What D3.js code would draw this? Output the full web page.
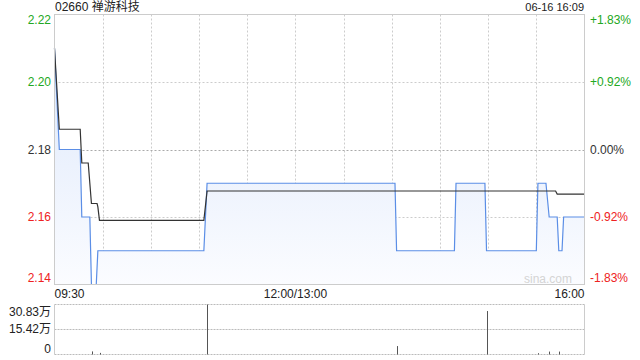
<!DOCTYPE html>
<html>
<head>
<meta charset="utf-8">
<script src="https://cdn.jsdelivr.net/npm/d3@7"></script>
<style>
  body { margin: 0; background: #fff; }
  svg { display: block; font-family: "Liberation Sans", Arial, "Noto Sans CJK SC", sans-serif; }
</style>
</head>
<body>
<script>
const title = "02660 禅游科技"
const stamp = "06-16 16:09"
const prevClose = 2.18

// minutes since 09:30 (lunch break removed), price
const priceMin = [0, 3, 16, 17, 22, 23, 26, 27, 93, 95, 212, 213, 249, 250, 268, 269, 300, 301, 306, 308, 313, 314, 316, 317, 330]
const priceVal = [2.21, 2.18, 2.18, 2.16, 2.16, 2.14, 2.14, 2.15, 2.15, 2.17, 2.17, 2.15, 2.15, 2.17, 2.17, 2.15, 2.15, 2.17, 2.17, 2.16, 2.16, 2.15, 2.15, 2.16, 2.16]

// average price
const avgMin = [0, 3, 16, 17, 21, 23, 26.5, 27, 28, 93, 95, 312, 313, 330]
const avgVal = [2.21, 2.186, 2.186, 2.176, 2.176, 2.164, 2.164, 2.163, 2.159, 2.159, 2.1677, 2.1677, 2.1668, 2.1668]

// volume in 万
const volMin = [23.5, 28.6, 95, 213, 269, 301, 308, 314]
const volVal = [1.9, 1.0, 30.83, 5.2, 26.8, 0.8, 1.8, 1.8]

const priceTicks = [2.22, 2.20, 2.18, 2.16, 2.14]
const pctTicks = ["+1.83%", "+0.92%", "0.00%", "-0.92%", "-1.83%"]
const volTicks = [30.83, 15.42, 0]
const volLabels = ["30.83万", "15.42万", "0"]
const timeLabels = ["09:30", "12:00/13:00", "16:00"]
const timeLabelMin = [0, 150, 330]

const width = 640
const height = 360
const pLeft = 54.5, pRight = 584.5
const pTop = 14.5, pBottom = 284.5
const vTop = 304.5, vBottom = 354.5

const green = "#22a822", red = "#ee2222", dark = "#333"

const svg = d3.select("body").append("svg")
  .attr("width", width)
  .attr("height", height)

const x = d3.scaleLinear().domain([0, 330]).range([pLeft, pRight])
const y = d3.scaleLinear().domain([2.14, 2.22]).range([pBottom, pTop])
const yv = d3.scaleLinear().domain([0, 30.83]).range([vBottom, vTop])

const tickColor = v => v > prevClose ? green : v < prevClose ? red : dark

// gradient for area
const grad = svg.append("defs").append("linearGradient")
  .attr("id", "fillGrad").attr("x1", 0).attr("y1", 0).attr("x2", 0).attr("y2", 1)
grad.append("stop").attr("offset", "0%").attr("stop-color", "#dde8fb")
grad.append("stop").attr("offset", "100%").attr("stop-color", "#fbfcff")

// grid
const gridMin = d3.range(30, 330, 30)
svg.append("g").selectAll("line")
  .data(gridMin).enter().append("line")
  .attr("x1", d => Math.round(x(d)) + 0.5).attr("x2", d => Math.round(x(d)) + 0.5)
  .attr("y1", pTop).attr("y2", pBottom)
  .attr("stroke", "#ccc").attr("stroke-dasharray", "2,2")

svg.append("g").selectAll("line")
  .data(priceTicks.slice(1, 4)).enter().append("line")
  .attr("x1", pLeft).attr("x2", pRight)
  .attr("y1", d => Math.round(y(d)) + 0.5).attr("y2", d => Math.round(y(d)) + 0.5)
  .attr("stroke", d => d === prevClose ? "#aaa" : "#ccc")
  .attr("stroke-dasharray", "2,2")

// area + lines
const pts = priceMin.map((m, i) => [m, priceVal[i]])
const avgPts = avgMin.map((m, i) => [m, avgVal[i]])

svg.append("path")
  .datum(pts)
  .attr("d", d3.area().x(d => x(d[0])).y0(pBottom).y1(d => y(d[1])))
  .attr("fill", "url(#fillGrad)")

svg.append("path")
  .datum(pts)
  .attr("d", d3.line().x(d => x(d[0])).y(d => y(d[1])))
  .attr("fill", "none").attr("stroke", "#5b8ee6").attr("stroke-width", 1.2)

svg.append("path")
  .datum(avgPts)
  .attr("d", d3.line().x(d => x(d[0])).y(d => y(d[1])))
  .attr("fill", "none").attr("stroke", "#333").attr("stroke-width", 1.2)

// frame
svg.append("rect")
  .attr("x", pLeft).attr("y", pTop)
  .attr("width", pRight - pLeft).attr("height", pBottom - pTop)
  .attr("fill", "none").attr("stroke", "#ccc")

// watermark
svg.append("text")
  .attr("x", 572).attr("y", 283)
  .attr("text-anchor", "end")
  .attr("font-size", 12).attr("fill", "#d4d4d4")
  .text("sina.com")

// left price labels
const edgeShift = (i, n) => i === 0 ? 5 : i === n - 1 ? -7 : 0
svg.append("g").selectAll("text")
  .data(priceTicks).enter().append("text")
  .attr("x", 51)
  .attr("y", (d, i) => y(d) + 4 + edgeShift(i, priceTicks.length))
  .attr("text-anchor", "end")
  .attr("font-size", 12)
  .attr("fill", tickColor)
  .text(d => d.toFixed(2))

svg.append("g").selectAll("text")
  .data(pctTicks).enter().append("text")
  .attr("x", 590)
  .attr("y", (d, i) => y(priceTicks[i]) + 4 + edgeShift(i, pctTicks.length))
  .attr("font-size", 12)
  .attr("fill", (d, i) => tickColor(priceTicks[i]))
  .text(d => d)

// title and timestamp
svg.append("text")
  .attr("x", 55).attr("y", 11)
  .attr("font-size", 12).attr("fill", "#222")
  .text(title)

svg.append("text")
  .attr("x", 584).attr("y", 11)
  .attr("text-anchor", "end")
  .attr("font-size", 11).attr("fill", "#222")
  .text(stamp)

// time labels
svg.append("g").selectAll("text")
  .data(timeLabels).enter().append("text")
  .attr("x", (d, i) => x(timeLabelMin[i]))
  .attr("y", 298)
  .attr("text-anchor", (d, i) => i === 0 ? "start" : i === timeLabels.length - 1 ? "end" : "middle")
  .attr("font-size", 12).attr("fill", "#222")
  .text(d => d)

// volume panel
svg.append("g").selectAll("line")
  .data(volTicks).enter().append("line")
  .attr("x1", pLeft).attr("x2", pRight)
  .attr("y1", d => yv(d)).attr("y2", d => yv(d))
  .attr("stroke", "#bbb").attr("stroke-dasharray", "2,1")

svg.append("g").selectAll("line")
  .data([pLeft, pRight]).enter().append("line")
  .attr("x1", d => d).attr("x2", d => d)
  .attr("y1", vTop).attr("y2", vBottom)
  .attr("stroke", "#ccc")

svg.append("g").selectAll("line")
  .data(volMin.map((m, i) => [m, volVal[i]])).enter().append("line")
  .attr("x1", d => Math.round(x(d[0])) + 0.5).attr("x2", d => Math.round(x(d[0])) + 0.5)
  .attr("y1", vBottom).attr("y2", d => yv(d[1]))
  .attr("stroke", "#555")

svg.append("g").selectAll("text")
  .data(volLabels).enter().append("text")
  .attr("x", 51)
  .attr("y", (d, i) => yv(volTicks[i]) + 4 + (i === 0 ? 7 : i === volLabels.length - 1 ? -6 : 0))
  .attr("text-anchor", "end")
  .attr("font-size", 12).attr("fill", "#222")
  .text(d => d)
</script>
</body>
</html>
